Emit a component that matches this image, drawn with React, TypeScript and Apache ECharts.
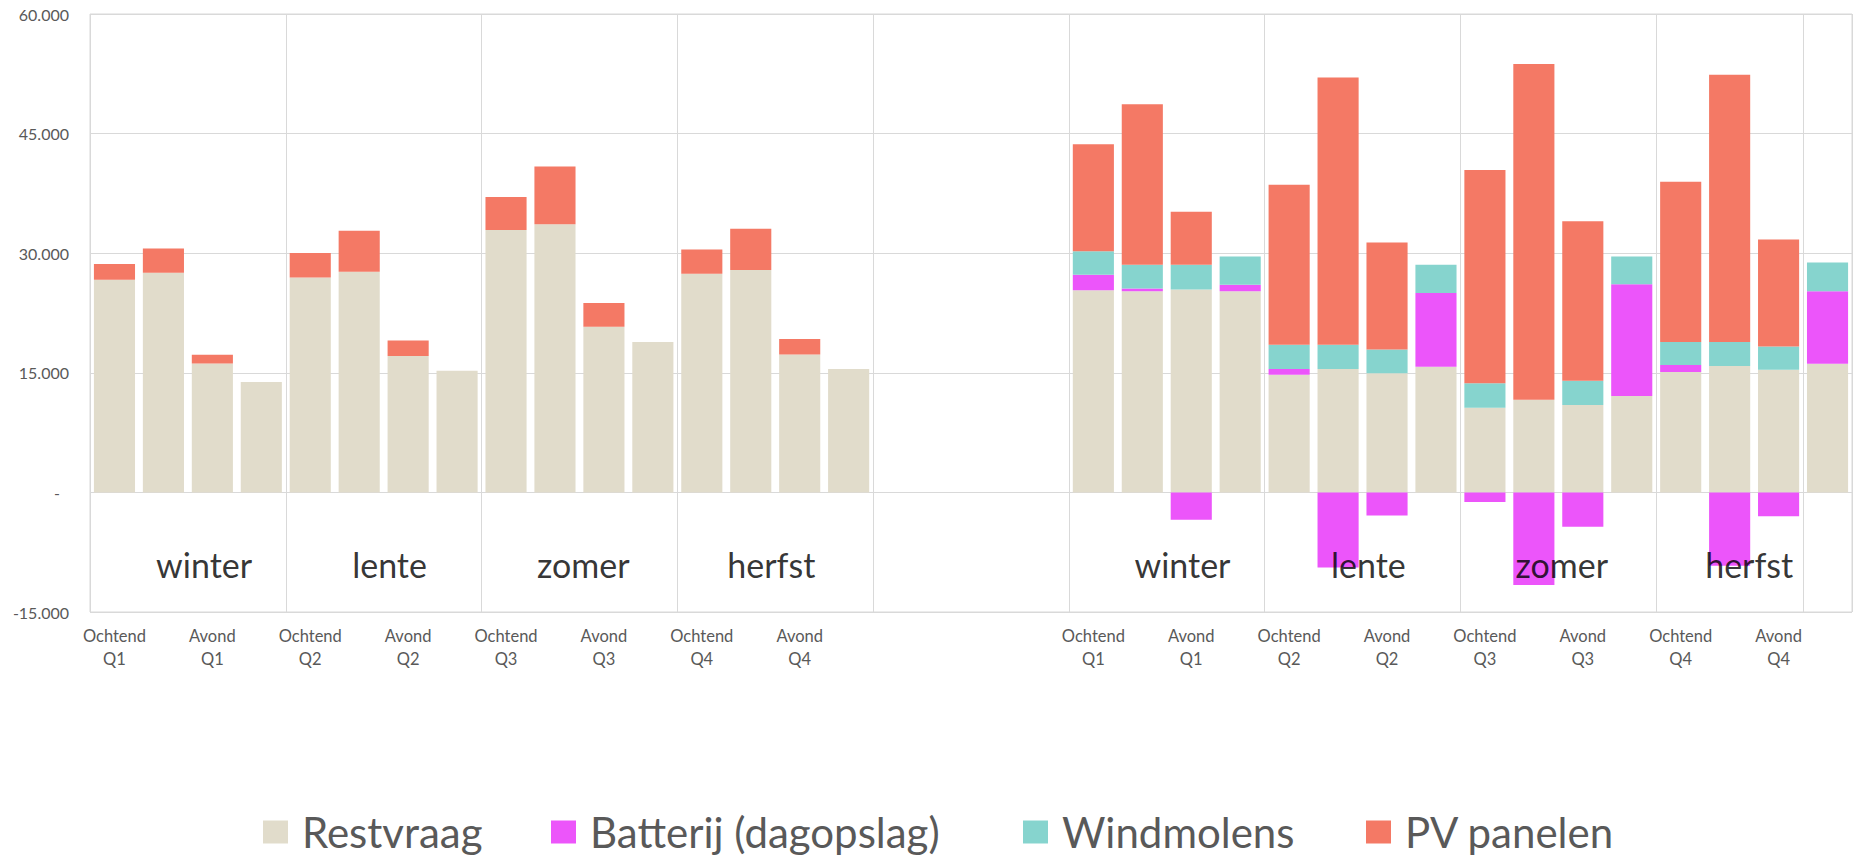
import React, { useEffect, useRef } from "react";
import * as echarts from "echarts";

// ---- tick labels / categories ----
const xLabels: string[] = [
  "Ochtend\nQ1", "", "Avond\nQ1", "",
  "Ochtend\nQ2", "", "Avond\nQ2", "",
  "Ochtend\nQ3", "", "Avond\nQ3", "",
  "Ochtend\nQ4", "", "Avond\nQ4", "",
  "", "", "", "",
  "Ochtend\nQ1", "", "Avond\nQ1", "",
  "Ochtend\nQ2", "", "Avond\nQ2", "",
  "Ochtend\nQ3", "", "Avond\nQ3", "",
  "Ochtend\nQ4", "", "Avond\nQ4", "",
];
const categories: string[] = xLabels.map((_, i) => "c" + i);

const seriesNames = ["Restvraag", "Batterij (dagopslag)", "Windmolens", "PV panelen"];
const seriesColors = ["#E1DCCB", "#EC55FA", "#86D4CE", "#F47965"];

// ---- left block (current situation) ----
const nowRestvraag = [26670, 27550, 16180, 13840, 26960, 27680, 17100, 15260, 32920, 33630, 20770, 18860, 27410, 27900, 17280, 15480];
const nowBatterij = [null, null, null, null, null, null, null, null, null, null, null, null, null, null, null, null];
const nowWindmolens = [null, null, null, null, null, null, null, null, null, null, null, null, null, null, null, null];
const nowPV = [1970, 3050, 1090, null, 3060, 5140, 1960, null, 4140, 7250, 2990, null, 3060, 5180, 1960, null];

// ---- empty gap ----
const gap = [null, null, null, null];

// ---- right block (future situation) ----
const futRestvraag = [25340, 25230, 25450, 25230, 14770, 15480, 14930, 15750, 10630, 11610, 10950, 12100, 15100, 15860, 15370, 16130];
const futBatterij = [1960, 330, -3430, 820, 710, -9430, -2890, 9270, -1200, -11610, -4310, 14010, 870, -9210, -3000, 9100];
const futWindmolens = [2950, 3000, 3110, 3540, 3050, 3050, 3000, 3540, 3050, null, 3060, 3480, 2890, 3000, 2940, 3600];
const futPV = [13400, 20110, 6650, null, 20060, 33520, 13410, null, 26760, 42130, 20000, null, 20110, 33510, 13410, null];

// ---- season annotations ----
const seasonNames = ["winter", "lente", "zomer", "herfst", "winter", "lente", "zomer", "herfst"];
const seasonX = [2.33, 6.12, 10.08, 13.92, 22.32, 26.12, 30.07, 33.9];
const seasonY = -9070;

const seriesData = [
  [...nowRestvraag, ...gap, ...futRestvraag],
  [...nowBatterij, ...gap, ...futBatterij],
  [...nowWindmolens, ...gap, ...futWindmolens],
  [...nowPV, ...gap, ...futPV],
];

const legendLeft = [258, 546, 1018, 1361];

const FONT = "Lato";
const GREY = "#595959";

export default function App() {
  const ref = useRef<HTMLDivElement>(null);
  useEffect(() => {
    const chart = echarts.init(ref.current!, null, { renderer: "svg" });
    const option: any = {
      animation: false,
      backgroundColor: "#ffffff",
      grid: {
        left: 90,
        right: 11,
        top: 14,
        bottom: 248,
        show: true,
        borderColor: "#D9D9D9",
        borderWidth: 1,
      },
      legend: seriesNames.map((name, i) => ({
        data: [name],
        left: legendLeft[i],
        top: 806,
        icon: "rect",
        itemWidth: 25,
        itemHeight: 23,
        selectedMode: false,
        textStyle: { fontFamily: FONT, fontSize: 42, color: GREY, padding: [0, 0, 0, 9] },
      })),
      xAxis: [
        {
          type: "category",
          data: categories,
          position: "bottom",
          axisLine: { show: false },
          axisTick: { show: false },
          axisLabel: {
            interval: 0,
            formatter: (_v: string, i: number) => xLabels[i],
            color: GREY,
            fontFamily: FONT,
            fontSize: 16.5,
            lineHeight: 23,
            margin: 12,
          },
          splitLine: { show: true, interval: 3, lineStyle: { color: "#D9D9D9", width: 1 } },
        },
        { type: "value", min: 0, max: 36, show: false },
      ],
      yAxis: {
        type: "value",
        min: -15000,
        max: 60000,
        interval: 15000,
        axisLine: { show: false },
        axisTick: { show: false },
        splitLine: { lineStyle: { color: "#D9D9D9", width: 1 } },
        axisLabel: {
          color: GREY,
          fontFamily: FONT,
          fontSize: 16,
          margin: 21,
          formatter: (v: number) => (v === 0 ? "{z|-}" : `${v / 1000}.000`),
          rich: { z: { padding: [0, 9, 0, 0], color: GREY, fontFamily: FONT, fontSize: 16 } },
        },
      },
      series: [
        ...seriesNames.map((name, i) => ({
          name,
          type: "bar",
          stack: "total",
          data: seriesData[i],
          barCategoryGap: "16%",
          itemStyle: { color: seriesColors[i] },
          silent: true,
        })),
        {
          type: "scatter",
          xAxisIndex: 1,
          yAxisIndex: 0,
          symbol: "circle",
          symbolSize: 1,
          itemStyle: { color: "rgba(0,0,0,0)" },
          silent: true,
          z: 20,
          data: seasonNames.map((n, i) => ({ name: n, value: [seasonX[i], seasonY] })),
          label: {
            show: true,
            position: "inside",
            formatter: "{b}",
            color: "#000000",
            fontFamily: FONT,
            fontSize: 34,
          },
        },
      ],
    };
    chart.setOption(option);
    return () => chart.dispose();
  }, []);
  return (
    <div
      ref={ref}
      style={{ position: "fixed", left: 0, top: 0, width: 1863, height: 860, background: "#fff" }}
    />
  );
}
